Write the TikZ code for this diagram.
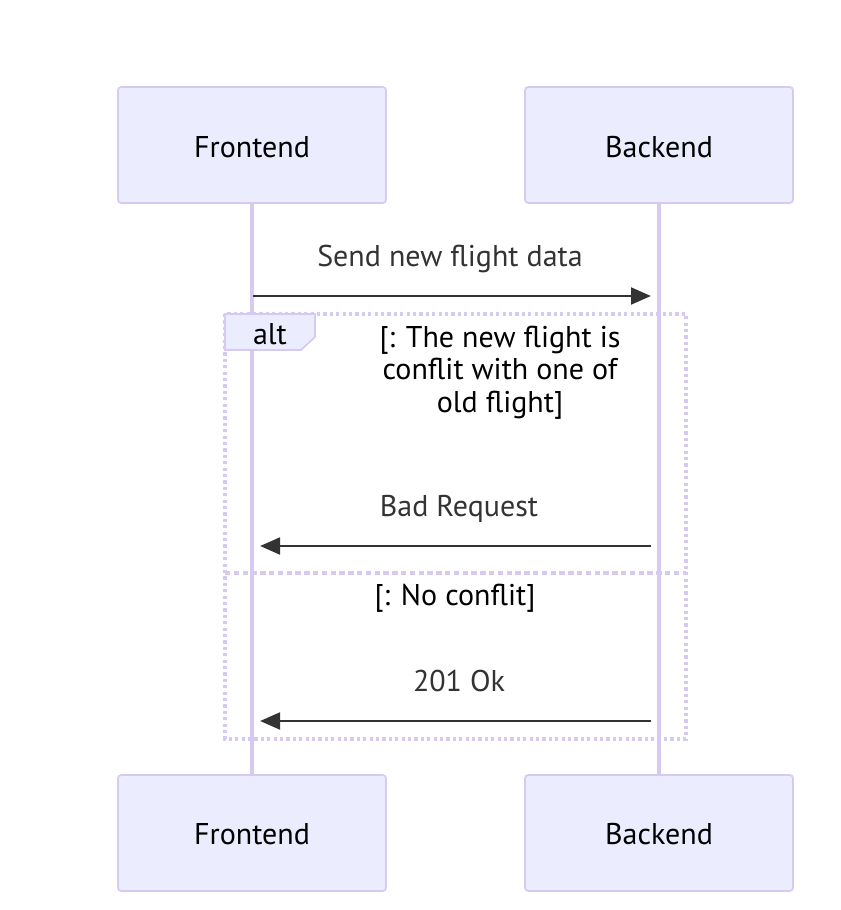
\documentclass[tikz,border=0pt]{standalone}
\usepackage{fontspec}
\setmainfont{PT Sans}
\usetikzlibrary{arrows.meta}
\definecolor{actfill}{HTML}{ECECFF}
\definecolor{lav}{HTML}{D6CAF2}
\definecolor{msg}{HTML}{333333}
\tikzset{
  actor/.style={draw=lav, line width=1.3pt, fill=actfill, rounded corners=2.5pt,
    minimum width=201pt, minimum height=87pt, inner sep=0pt},
  actortext/.style={anchor=base, text=black, font=\fontsize{22.5}{27}\selectfont, inner sep=0pt},
  lifeline/.style={draw=lav, line width=2.6pt},
  message/.style={draw=msg, line width=2.2pt, -{Triangle[length=15pt,width=12.5pt]}},
  msglabel/.style={anchor=base, text=msg, font=\fontsize{22.5}{27}\selectfont, inner sep=0pt},
  condlabel/.style={anchor=base, text=black, font=\fontsize{22.5}{27}\selectfont, inner sep=0pt, align=center},
  frame/.style={draw=lav, line width=2.6pt, dash pattern=on 2.4pt off 2.4pt},
  divider/.style={draw=lav, line width=2.6pt, dash pattern=on 4pt off 2.6pt},
}
\begin{document}
\begin{tikzpicture}[x=0.75pt, y=-0.75pt]
\useasboundingbox[fill=white] (0,0) rectangle (841,910);
% actors
\node[actor] (F1) at (252,145) {};
\node[actor] (B1) at (659,145) {};
\node[actor] (F2) at (252,833) {};
\node[actor] (B2) at (659,833) {};
\node[actortext] (F1t) at (252,157) {Frontend};
\node[actortext] (B1t) at (659,157) {Backend};
\node[actortext] (F2t) at (252,844) {Frontend};
\node[actortext] (B2t) at (659,844) {Backend};
% lifelines
\draw[lifeline] (F1.south) -- (F2.north);
\draw[lifeline] (B1.south) -- (B2.north);
% alt frame
\draw[frame] (225,314) rectangle (686,739);
\draw[divider] (225,573) -- (686,573);
\draw[draw=lav, line width=1.3pt, fill=actfill] (225,314) -- (315,314) -- (315,337) -- (301,350) -- (225,350) -- cycle;
\node[condlabel] (alt) at (270,344) {alt};
% message coordinates
\coordinate (s1) at (253,296);
\coordinate (e1) at (651,296);
\coordinate (s2) at (651,546);
\coordinate (e2) at (260,546);
\coordinate (s3) at (651,721);
\coordinate (e3) at (260,721);
\draw[message] (s1) -- (e1);
\draw[message] (s2) -- (e2);
\draw[message] (s3) -- (e3);
\node[msglabel] (m1) at (450,266) {Send new flight data};
\node[msglabel] (m2) at (459,516) {Bad Request};
\node[msglabel] (m3) at (459,691) {201 Ok};
\node[condlabel] (c1a) at (500,347) {[: The new flight is};
\node[condlabel] (c1b) at (500,379) {conflit with one of};
\node[condlabel] (c1c) at (500,412) {old flight]};
\node[condlabel] (c2) at (455,605) {[: No conflit]};
\end{tikzpicture}
\end{document}
